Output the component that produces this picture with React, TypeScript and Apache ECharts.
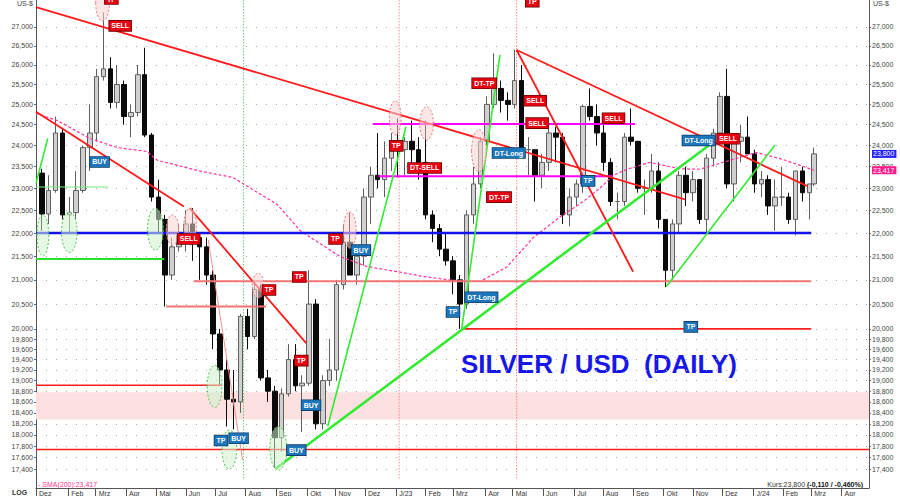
import { useEffect, useRef } from 'react';
import * as echarts from 'echarts';

const NARROW = "'Liberation Sans Narrow', 'Arial Narrow', 'Liberation Sans', Arial, sans-serif";
const SANS = "'Liberation Sans', Arial, sans-serif";

// Weekly candles (mid-week date), silver in US-$ per ounce
const weekDates = [
  '2022-01-05', '2022-01-12', '2022-01-19', '2022-01-26', '2022-02-02', '2022-02-09', '2022-02-16', '2022-02-23',
  '2022-03-02', '2022-03-09', '2022-03-16', '2022-03-23', '2022-03-30', '2022-04-06', '2022-04-13', '2022-04-20',
  '2022-04-27', '2022-05-04', '2022-05-11', '2022-05-18', '2022-05-25', '2022-06-01', '2022-06-08', '2022-06-15',
  '2022-06-22', '2022-06-29', '2022-07-06', '2022-07-13', '2022-07-20', '2022-07-27', '2022-08-03', '2022-08-10',
  '2022-08-17', '2022-08-24', '2022-08-31', '2022-09-07', '2022-09-14', '2022-09-21', '2022-09-28', '2022-10-05',
  '2022-10-12', '2022-10-19', '2022-10-26', '2022-11-02', '2022-11-09', '2022-11-16', '2022-11-23', '2022-11-30',
  '2022-12-07', '2022-12-14', '2022-12-21', '2022-12-28',
  '2023-01-04', '2023-01-11', '2023-01-18', '2023-01-25', '2023-02-01', '2023-02-08', '2023-02-15', '2023-02-22',
  '2023-03-01', '2023-03-08', '2023-03-15', '2023-03-22', '2023-03-29', '2023-04-05', '2023-04-12', '2023-04-19',
  '2023-04-26', '2023-05-03', '2023-05-10', '2023-05-17', '2023-05-24', '2023-05-31', '2023-06-07', '2023-06-14',
  '2023-06-21', '2023-06-28', '2023-07-05', '2023-07-12', '2023-07-19', '2023-07-26', '2023-08-02', '2023-08-09',
  '2023-08-16', '2023-08-23', '2023-08-30', '2023-09-06', '2023-09-13', '2023-09-20', '2023-09-27', '2023-10-04',
  '2023-10-11', '2023-10-18', '2023-10-25', '2023-11-01', '2023-11-08', '2023-11-15', '2023-11-22', '2023-11-29',
  '2023-12-06', '2023-12-13', '2023-12-20', '2023-12-27',
  '2024-01-03', '2024-01-10', '2024-01-17', '2024-01-24', '2024-01-31', '2024-02-07', '2024-02-14', '2024-02-21',
  '2024-02-28', '2024-03-04',
];
const opens = [
  23.35, 22.42, 22.95, 24.30, 22.40, 22.45, 22.95, 23.95, 24.30, 25.70, 25.90, 25.05, 25.50, 24.70, 24.80, 25.75,
  24.25, 22.80, 22.30, 21.10, 21.70, 21.95, 22.20, 21.90, 21.70, 21.10, 19.90, 19.20, 18.65, 18.60, 20.25, 19.85,
  20.80, 19.05, 18.80, 17.95, 18.75, 19.40, 18.90, 18.95, 20.50, 18.20, 19.00, 19.20, 20.90, 21.80, 21.10, 21.50,
  22.80, 23.30, 23.20, 23.70,
  23.95, 23.90, 24.10, 23.90, 23.60, 22.40, 22.10, 21.65, 21.40, 21.00, 20.50, 22.40, 23.10, 24.10, 25.00, 25.40,
  25.10, 25.00, 25.60, 23.90, 23.90, 23.30, 23.60, 24.30, 24.20, 22.40, 22.80, 23.10, 24.95, 24.70, 24.30, 23.60,
  22.70, 22.70, 24.20, 24.10, 23.00, 23.00, 23.40, 22.30, 21.20, 22.20, 23.30, 22.90, 23.20, 22.30, 23.70, 24.30,
  25.20, 23.10, 24.10, 24.20,
  23.80, 23.10, 23.20, 22.60, 22.80, 22.80, 22.30, 23.40, 22.90, 23.10,
];
const highs = [
  23.45, 23.30, 24.70, 24.40, 22.80, 23.40, 24.00, 25.00, 25.90, 27.40, 26.20, 26.00, 25.60, 25.00, 26.00, 26.45,
  24.30, 23.20, 22.40, 21.90, 22.20, 22.50, 22.55, 22.00, 21.90, 21.20, 20.00, 19.40, 19.20, 20.30, 20.40, 20.95,
  20.90, 19.20, 18.90, 18.85, 19.70, 19.70, 19.10, 21.20, 20.60, 19.10, 19.80, 21.00, 22.20, 22.45, 21.60, 23.00,
  23.50, 24.30, 24.10, 24.30,
  24.65, 24.20, 24.60, 24.20, 24.60, 22.50, 22.20, 22.00, 21.50, 21.10, 22.50, 23.50, 24.20, 25.20, 26.30, 25.60,
  25.30, 26.40, 26.00, 24.20, 23.90, 23.80, 24.40, 24.45, 24.30, 23.00, 23.20, 25.00, 25.40, 25.00, 24.60, 23.70,
  22.90, 24.30, 24.90, 24.10, 23.20, 23.80, 23.60, 22.30, 22.30, 23.40, 23.50, 23.40, 23.20, 23.80, 24.40, 25.30,
  25.90, 24.30, 24.50, 24.70,
  23.90, 23.40, 23.30, 23.20, 23.50, 22.90, 23.40, 23.50, 23.10, 23.95,
];
const lows = [
  22.05, 22.20, 22.90, 22.30, 22.00, 22.30, 22.90, 23.40, 24.10, 25.60, 24.90, 24.90, 24.50, 24.20, 24.70, 24.20,
  22.70, 22.00, 20.45, 21.00, 21.60, 21.60, 21.40, 21.00, 20.90, 19.60, 18.90, 18.15, 18.10, 18.40, 19.60, 19.80,
  19.00, 18.60, 17.42, 17.70, 18.70, 18.80, 18.05, 18.90, 18.10, 18.10, 18.90, 19.00, 20.80, 21.10, 20.90, 21.30,
  22.20, 23.00, 22.80, 23.40,
  23.25, 23.30, 23.40, 23.20, 22.30, 21.80, 21.50, 21.30, 20.70, 20.00, 20.40, 22.20, 23.00, 24.00, 24.90, 24.80,
  24.60, 24.90, 23.80, 23.30, 22.70, 23.00, 23.40, 23.60, 22.20, 22.15, 22.60, 22.90, 24.60, 24.00, 23.40, 22.60,
  22.30, 22.60, 24.00, 22.90, 22.40, 22.90, 22.10, 20.85, 21.00, 22.00, 22.60, 22.70, 22.20, 22.00, 23.50, 24.10,
  23.00, 22.70, 23.60, 23.80,
  22.90, 22.80, 22.40, 22.05, 22.60, 22.20, 21.95, 22.70, 22.30, 23.05,
];
const closes = [
  22.42, 22.95, 24.30, 22.40, 22.45, 22.95, 23.95, 24.30, 25.70, 25.90, 25.05, 25.50, 24.70, 24.80, 25.75, 24.25,
  22.80, 22.30, 21.10, 21.70, 21.95, 22.20, 21.90, 21.70, 21.10, 19.90, 19.20, 18.65, 18.60, 20.25, 19.85, 20.80,
  19.05, 18.80, 17.95, 18.75, 19.40, 18.90, 18.95, 20.50, 18.20, 19.00, 19.20, 20.90, 21.80, 21.10, 21.50, 22.80,
  23.30, 23.20, 23.70, 23.95,
  23.90, 24.10, 23.90, 23.60, 22.40, 22.10, 21.65, 21.40, 21.00, 20.50, 22.40, 23.10, 24.10, 25.00, 25.40, 25.10,
  25.00, 25.60, 23.90, 23.90, 23.30, 23.60, 24.30, 24.20, 22.40, 22.80, 23.10, 24.95, 24.70, 24.30, 23.60, 22.70,
  22.70, 24.20, 24.10, 23.00, 23.00, 23.40, 22.30, 21.20, 22.20, 23.30, 22.90, 23.20, 22.30, 23.70, 24.30, 25.20,
  23.10, 24.10, 24.20, 23.80,
  23.10, 23.20, 22.60, 22.80, 22.80, 22.30, 23.40, 22.90, 23.10, 23.80,
];

// 200-day moving average
const smaDates = [
  '2021-12-30', '2022-01-21', '2022-02-23', '2022-03-23', '2022-04-22', '2022-05-03', '2022-06-15', '2022-07-19',
  '2022-09-02', '2022-09-26', '2022-11-05', '2022-12-03', '2023-01-06', '2023-02-02', '2023-03-08', '2023-03-29',
  '2023-04-25', '2023-05-22', '2023-06-18', '2023-07-12', '2023-07-29', '2023-08-12', '2023-08-26', '2023-09-18',
  '2023-10-19', '2023-11-08', '2023-12-12', '2024-01-05', '2024-02-01', '2024-03-04',
];
const smaValues = [
  24.78, 24.60, 24.17, 23.95, 23.86, 23.65, 23.40, 23.25, 22.64, 22.05, 21.50, 21.28, 21.16, 21.06, 20.97, 20.97,
  21.27, 21.90, 22.35, 22.70, 23.00, 23.30, 23.44, 23.60, 23.45, 23.44, 23.67, 23.83, 23.67, 23.417,
];

// Price scale
const yMin = 17.075;
const yMax = 27.734;
const yTickValues = [
  17.4, 17.6, 17.8, 18.0, 18.2, 18.4, 18.6, 18.8, 19.0, 19.2, 19.4, 19.6, 19.8, 20.0,
  20.5, 21.0, 21.5, 22.0, 22.5, 23.0, 23.5, 24.0, 24.5, 25.0, 25.5, 26.0, 26.5, 27.0,
];

// Time scale and month ticks
const xMin = '2021-12-30';
const xMax = '2024-04-29';
const monthTickDates = [
  '2021-12-30', '2022-02-01', '2022-03-01', '2022-04-01', '2022-05-02', '2022-06-01', '2022-07-01', '2022-08-01',
  '2022-09-01', '2022-10-03', '2022-11-01', '2022-12-01', '2023-01-02', '2023-02-01', '2023-03-01', '2023-04-03',
  '2023-05-01', '2023-06-01', '2023-07-03', '2023-08-01', '2023-09-01', '2023-10-02', '2023-11-01', '2023-12-01',
  '2024-01-02', '2024-02-01', '2024-03-01', '2024-04-01',
];
const monthTickLabels = [
  'Dez', 'Feb', 'Mrz', 'Apr', 'Mai', 'Jun', 'Jul', 'Aug', 'Sep', 'Okt', 'Nov', 'Dez', 'J/23', 'Feb', 'Mrz', 'Apr',
  'Mai', 'Jun', 'Jul', 'Aug', 'Sep', 'Okt', 'Nov', 'Dez', 'J/24', 'Feb', 'Mrz', 'Apr',
];

// Trend lines: [start, end] as [date, price]
const redTrendLines: [string, number][][] = [
  [['2021-12-30', 27.54], ['2023-10-24', 22.75]],
  [['2021-12-30', 24.82], ['2022-05-30', 22.59]],
  [['2022-06-05', 22.55], ['2022-10-02', 19.72]],
  [['2023-05-05', 26.39], ['2023-09-01', 21.17]],
  [['2023-05-05', 26.39], ['2024-02-26', 23.05]],
];
const faintRedLines: [string, number][][] = [
  [['2022-06-24', 21.85], ['2022-07-29', 17.56]],
];
const mainGreenLines: [string, number][][] = [
  [['2022-09-01', 17.41], ['2023-11-18', 24.01]],
];
const greenTrendLines: [string, number][][] = [
  [['2022-10-24', 18.15], ['2023-01-12', 24.45]],
  [['2023-03-10', 20.01], ['2023-04-18', 26.26]],
  [['2023-10-05', 20.86], ['2024-01-24', 24.01]],
  [['2021-12-30', 23.11], ['2022-01-11', 24.17]],
];

// Horizontal levels: [price, from, to]
const blueLevels: [number, string, string][] = [[22.0, '2021-12-30', '2024-03-01']];
const redLevels: [number, string, string][] = [
  [20.0, '2023-03-10', '2024-03-01'],
  [18.91, '2021-12-30', '2022-07-08'],
  [17.74, '2021-12-30', '2024-04-29'],
];
const softRedLevels: [number, string, string][] = [
  [20.97, '2022-06-09', '2024-03-01'],
  [20.45, '2022-05-12', '2022-08-22'],
];
const greenLevels: [number, string, string][] = [[21.44, '2021-12-30', '2022-05-10']];
const thinGreenLevels: [number, string, string][] = [[23.03, '2021-12-30', '2022-03-14']];
const magentaLevels: [number, string, string][] = [
  [24.52, '2022-12-09', '2023-09-03'],
  [23.28, '2022-12-15', '2023-08-11'],
];
const supportBand = [18.28, 18.78];

// Vertical dotted markers
const markerSpan = [17.24, yMax];
const greenMarkerDates = ['2022-07-30'];
const redMarkerDates = ['2023-01-05', '2023-05-05'];

// Highlighted zones: [from, to, low, high]
const greenZones: [string, string, number, number][] = [
  ['2021-12-31', '2022-01-12', 21.51, 22.40],
  ['2022-01-25', '2022-02-10', 21.58, 22.47],
  ['2022-04-23', '2022-05-09', 21.63, 22.55],
  ['2022-06-23', '2022-07-08', 18.50, 19.29],
  ['2022-07-08', '2022-07-23', 17.40, 18.09],
  ['2022-08-26', '2022-09-12', 17.38, 18.15],
];
const pinkZones: [string, string, number, number][] = [
  ['2022-03-01', '2022-03-15', 27.16, 28.16],
  ['2022-05-12', '2022-05-25', 21.74, 22.40],
  ['2022-05-30', '2022-06-12', 21.74, 22.55],
  ['2022-08-08', '2022-08-20', 20.62, 21.14],
  ['2022-11-09', '2022-11-22', 21.67, 22.47],
  ['2022-12-26', '2023-01-07', 24.25, 25.09],
  ['2023-01-26', '2023-02-09', 24.13, 24.94],
  ['2023-03-20', '2023-04-04', 23.38, 24.38],
];

// Trade signals
const signalDates = [
  '2022-03-17', '2022-03-26', '2022-03-05', '2022-06-04', '2022-08-25', '2022-09-25', '2022-09-27', '2022-07-07',
  '2022-07-25', '2022-09-22', '2022-10-07', '2022-11-01', '2022-11-27', '2023-01-02', '2023-01-31', '2023-04-17',
  '2023-03-30', '2023-03-01', '2023-04-02', '2023-05-21', '2023-05-24', '2023-05-26', '2023-04-27', '2023-07-17',
  '2023-08-12', '2023-11-07', '2023-12-07', '2023-10-30',
];
const signalPrices = [
  27.76, 27.03, 23.61, 21.87, 20.79, 21.06, 19.38, 17.90,
  17.94, 17.73, 18.54, 21.87, 21.63, 23.99, 23.47, 22.80,
  20.64, 20.34, 25.53, 27.69, 25.09, 24.54, 23.82, 23.17,
  24.66, 24.12, 24.16, 20.04,
];
const signalTexts = [
  'TP', 'SELL', 'BUY', 'SELL', 'TP', 'TP', 'TP', 'TP',
  'BUY', 'BUY', 'BUY', 'TP', 'BUY', 'TP', 'DT-SELL', 'DT-TP',
  'DT-Long', 'TP', 'DT-TP', 'TP', 'SELL', 'SELL', 'DT-Long', 'TP',
  'SELL', 'DT-Long', 'SELL', 'TP',
];
const signalSides = [
  'S', 'S', 'B', 'S', 'S', 'S', 'S', 'B',
  'B', 'B', 'B', 'S', 'B', 'S', 'S', 'S',
  'B', 'B', 'S', 'S', 'S', 'S', 'B', 'B',
  'S', 'B', 'S', 'B',
];

const lastClose = closes[closes.length - 1];
const lastSma = smaValues[smaValues.length - 1];
const changeText = '(-0,110 / -0,460%)';

const ts = (s: string) => new Date(s + 'T00:00:00').getTime();
const fmt = (v: number) => v.toFixed(3).replace('.', ',');

function segment(pts: [string, number][], color: string, width: number, type: any, z: number) {
  return {
    type: 'line',
    data: pts.map(([d, p]) => [ts(d), p]),
    symbol: 'none',
    silent: true,
    z,
    lineStyle: { color, width, type },
    emphasis: { disabled: true },
  };
}

function levelSeries(levels: [number, string, string][], color: string, width: number, z: number) {
  return levels.map(([p, a, b]) => segment([[a, p], [b, p]], color, width, 'solid', z));
}

export default function App() {
  const ref = useRef<HTMLDivElement>(null);

  useEffect(() => {
    const chart = echarts.init(ref.current!, undefined, { renderer: 'svg' });
    const monthTicks = monthTickDates.map(ts);
    const monthLabelMap = new Map<number, string>();
    monthTicks.forEach((v, i) => monthLabelMap.set(v, monthTickLabels[i]));

    const yAxisBase = {
      type: 'log',
      logBase: 10,
      min: yMin,
      max: yMax,
      axisLine: { show: true, lineStyle: { color: '#555', width: 1 } },
      axisTick: { show: true, customValues: yTickValues, length: 2, lineStyle: { color: '#666' } },
      axisLabel: {
        customValues: yTickValues,
        formatter: (v: number) => fmt(v),
        fontSize: 7,
        color: '#444',
        fontFamily: NARROW,
        margin: 3,
      },
    };

    const zoneSeries = (zones: [string, string, number, number][], fill: string, stroke: string) => ({
      type: 'custom',
      z: 5,
      silent: true,
      clip: false,
      encode: { x: [0, 1], y: [2, 3] },
      data: zones.map(([a, b, lo, hi]) => [ts(a), ts(b), lo, hi]),
      renderItem: (_params: any, api: any) => {
        const p1 = api.coord([api.value(0), api.value(3)]);
        const p2 = api.coord([api.value(1), api.value(2)]);
        return {
          type: 'ellipse',
          shape: {
            cx: (p1[0] + p2[0]) / 2,
            cy: (p1[1] + p2[1]) / 2,
            rx: Math.abs(p2[0] - p1[0]) / 2,
            ry: Math.abs(p2[1] - p1[1]) / 2,
          },
          style: { fill, stroke, lineWidth: 1, lineDash: [2, 2] },
        };
      },
    });

    const option: any = {
      animation: false,
      backgroundColor: '#ffffff',
      grid: { left: 36, right: 31, top: 0, bottom: 8, containLabel: false, outerBoundsMode: 'none' },
      xAxis: {
        type: 'value',
        min: ts(xMin),
        max: ts(xMax),
        axisLine: { show: true, onZero: false, lineStyle: { color: '#555', width: 1 } },
        axisTick: { show: true, customValues: monthTicks, length: 8, lineStyle: { color: '#555' } },
        axisLabel: {
          customValues: monthTicks,
          formatter: (v: number) => monthLabelMap.get(v) ?? '',
          align: 'left',
          padding: [0, 0, 0, 3],
          margin: 2,
          fontSize: 7,
          color: '#333',
          fontFamily: NARROW,
          hideOverlap: false,
          showMinLabel: true,
        },
        splitLine: { show: false },
      },
      yAxis: [
        {
          ...yAxisBase,
          position: 'left',
          splitLine: { show: true, lineStyle: { color: '#a9a9a9', width: 1, type: [1, 9] } },
        },
        { ...yAxisBase, position: 'right', splitLine: { show: false } },
      ],
      series: [
        {
          type: 'candlestick',
          z: 2,
          barWidth: 5,
          silent: true,
          encode: { x: 0, y: [1, 2, 3, 4] },
          data: weekDates.map((d, i) => [ts(d), opens[i], closes[i], lows[i], highs[i]]),
          itemStyle: {
            color: '#d0d0d0',
            color0: '#0a0a0a',
            borderColor: '#5e5e5e',
            borderColor0: '#0a0a0a',
            borderWidth: 1,
          },
          markArea: {
            silent: true,
            itemStyle: { color: '#fde0e0' },
            data: [[{ yAxis: supportBand[0] }, { yAxis: supportBand[1] }]],
          },
        },
        {
          type: 'line',
          z: 3,
          silent: true,
          symbol: 'none',
          data: smaDates.map((d, i) => [ts(d), smaValues[i]]),
          lineStyle: { color: '#ff33a0', width: 1.2, type: [3, 2] },
        },
        ...levelSeries(softRedLevels, '#f27474', 2, 4),
        ...levelSeries(redLevels, '#ff1c1c', 1.6, 4),
        ...levelSeries(greenLevels, '#2ee02e', 2, 4),
        ...levelSeries(thinGreenLevels, '#74ee74', 1, 4),
        ...levelSeries(magentaLevels, '#ff00ff', 2, 4),
        ...levelSeries(blueLevels, '#1212ee', 2.5, 4),
        ...redTrendLines.map((l) => segment(l, '#ff1a1a', 1.8, 'solid', 4)),
        ...faintRedLines.map((l) => segment(l, '#f59090', 1, 'solid', 4)),
        ...greenTrendLines.map((l) => segment(l, '#33ea33', 1.6, 'solid', 4)),
        ...mainGreenLines.map((l) => segment(l, '#33ea33', 2.6, 'solid', 4)),
        ...greenMarkerDates.map((d) => segment([[d, markerSpan[0]], [d, markerSpan[1]]], '#33bb33', 1, [1, 2], 3)),
        ...redMarkerDates.map((d) => segment([[d, markerSpan[0]], [d, markerSpan[1]]], '#ff5a5a', 1, [1, 2], 3)),
        zoneSeries(greenZones, 'rgba(205,242,205,0.55)', '#55c855'),
        zoneSeries(pinkZones, 'rgba(250,212,212,0.55)', '#e87c7c'),
        {
          type: 'custom',
          z: 6,
          silent: true,
          clip: false,
          encode: { x: 0, y: 1 },
          data: signalDates.map((d, i) => [ts(d), signalPrices[i]]),
          renderItem: (params: any, api: any) => {
            const i = params.dataIndex;
            const pt = api.coord([api.value(0), api.value(1)]);
            const sell = signalSides[i] === 'S';
            return {
              type: 'text',
              x: pt[0],
              y: pt[1],
              style: {
                text: signalTexts[i],
                fill: '#ffffff',
                fontSize: 7,
                fontWeight: 'bold',
                fontFamily: SANS,
                align: 'center',
                verticalAlign: 'middle',
                backgroundColor: sell ? '#e80010' : '#1d77bd',
                borderColor: sell ? '#6a0000' : '#0b3a63',
                borderWidth: 0.8,
                padding: [2, 2, 1, 2],
              },
            };
          },
        },
        {
          type: 'custom',
          z: 6,
          silent: true,
          clip: false,
          encode: { x: 0, y: 1 },
          data: [
            [ts(weekDates[weekDates.length - 1]), lastClose],
            [ts(weekDates[weekDates.length - 1]), lastSma],
          ],
          renderItem: (params: any, api: any) => {
            const i = params.dataIndex;
            const pt = api.coord([api.value(0), api.value(1)]);
            const cs = params.coordSys;
            return {
              type: 'text',
              x: cs.x + cs.width + 3,
              y: pt[1],
              style: {
                text: fmt(api.value(1)),
                fill: '#ffffff',
                fontSize: 7,
                fontFamily: NARROW,
                align: 'left',
                verticalAlign: 'middle',
                backgroundColor: i === 0 ? '#2323ff' : '#ff1a8c',
                padding: [1, 2, 0, 1],
              },
            };
          },
        },
      ],
      graphic: [
        {
          type: 'text',
          left: 461,
          top: 351,
          silent: true,
          style: { text: 'SILVER / USD  (DAILY)', fill: '#1717e8', fontSize: 26, fontWeight: 'bold', fontFamily: SANS },
        },
        {
          type: 'text', x: 33, y: 3, silent: true,
          style: { text: 'US-$', fill: '#444', fontSize: 7, fontFamily: NARROW, align: 'right', verticalAlign: 'middle' },
        },
        {
          type: 'text', x: 873, y: 3, silent: true,
          style: { text: 'US-$', fill: '#444', fontSize: 7, fontFamily: NARROW, align: 'left', verticalAlign: 'middle' },
        },
        {
          type: 'text', x: 12, y: 492, silent: true,
          style: { text: 'LOG', fill: '#333', fontSize: 7, fontWeight: 'bold', fontFamily: NARROW, align: 'left', verticalAlign: 'middle' },
        },
        {
          type: 'text', x: 38, y: 484, silent: true,
          style: { text: '- SMA(200):' + fmt(lastSma), fill: '#ff2f92', fontSize: 7, fontFamily: NARROW, align: 'left', verticalAlign: 'middle' },
        },
        {
          type: 'text', x: 863, y: 484, silent: true,
          style: {
            text: '{a|Kurs:' + fmt(lastClose) + ' }{b|' + changeText + '}',
            align: 'right',
            verticalAlign: 'middle',
            rich: {
              a: { fill: '#333', fontSize: 7, fontFamily: NARROW },
              b: { fill: '#111', fontSize: 7, fontWeight: 'bold', fontFamily: NARROW },
            },
          },
        },
      ],
    };

    chart.setOption(option);
    return () => chart.dispose();
  }, []);

  return <div ref={ref} style={{ position: 'fixed', left: 0, top: 0, width: 900, height: 496 }} />;
}
